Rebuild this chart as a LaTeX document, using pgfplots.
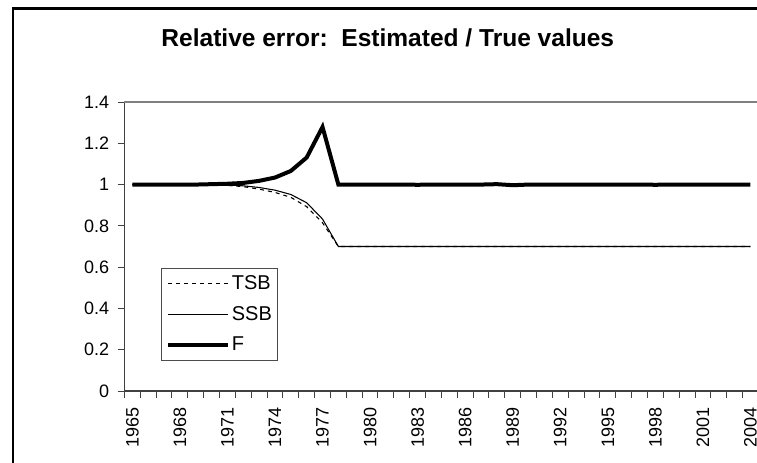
\documentclass[border=0pt]{standalone}
\usepackage{fontspec}
\setmainfont{Liberation Sans}
\usepackage{pgfplots}
\pgfplotsset{compat=1.18}
\pgfplotstableread{
year TSB SSB F
1965 1 1 1
1966 1 1 1
1967 1 1 1
1968 1 1 1
1969 1 1 1
1970 0.999 1 1.002
1971 0.996 0.998 1.004
1972 0.990 0.994 1.008
1973 0.978 0.986 1.018
1974 0.962 0.973 1.034
1975 0.938 0.952 1.066
1976 0.893 0.912 1.131
1977 0.815 0.833 1.279
1978 0.70 0.70 1.0
1979 0.70 0.70 1.0
1980 0.70 0.70 1.0
1981 0.70 0.70 1.0
1982 0.70 0.70 1.0
1983 0.70 0.70 0.999
1984 0.70 0.70 1.0
1985 0.70 0.70 1.0
1986 0.70 0.70 1.0
1987 0.70 0.70 1.0
1988 0.70 0.70 1.002
1989 0.70 0.70 0.997
1990 0.70 0.70 1.0
1991 0.70 0.70 1.0
1992 0.70 0.70 1.0
1993 0.70 0.70 1.0
1994 0.70 0.70 1.0
1995 0.70 0.70 1.0
1996 0.70 0.70 1.0
1997 0.70 0.70 1.0
1998 0.70 0.70 0.999
1999 0.70 0.70 1.0
2000 0.70 0.70 1.0
2001 0.70 0.70 1.0
2002 0.70 0.70 1.0
2003 0.70 0.70 1.0
2004 0.70 0.70 1.0
}\datatable
\newcommand{\tickfont}{\fontsize{13.5}{16}\selectfont}
\newcommand{\legfont}{\fontsize{15}{18}\selectfont}
\begin{document}
\begin{tikzpicture}[x=0.75pt,y=0.75pt]
\useasboundingbox (0,0) rectangle (757,462);
\clip (0,0) rectangle (757,462);
\draw[line width=1.6pt] (13,453.5) rectangle (900,-100);
\node[anchor=base, font=\fontsize{18.4}{22}\selectfont\bfseries] at (387.8,416) {Relative error:\ \ Estimated / True values};
\begin{axis}[
  at={(93.3pt,53.25pt)}, anchor=south west,
  scale only axis, width=475.5pt, height=216.75pt,
  xmin=1964.5, xmax=2004.5, ymin=0, ymax=1.4,
  axis x line*=bottom, axis y line*=left,
  axis line style={black!75, line width=1pt},
  tick style={black!75, line width=0.75pt},
  tick align=outside, major tick length=5pt,
  ytick={0,0.2,0.4,0.6,0.8,1,1.2,1.4},
  xtick={1964.5,1965.5,...,2004.5},
  xticklabels={},
  extra x ticks={1965,1968,1971,1974,1977,1980,1983,1986,1989,1992,1995,1998,2001,2004},
  extra x tick labels={\tickfont 1965,\tickfont 1968,\tickfont 1971,\tickfont 1974,\tickfont 1977,\tickfont 1980,\tickfont 1983,\tickfont 1986,\tickfont 1989,\tickfont 1992,\tickfont 1995,\tickfont 1998,\tickfont 2001,\tickfont 2004},
  extra x tick style={tick style={draw=none}},
  /pgf/number format/assume math mode=true,
  yticklabel style={font=\tickfont, xshift=-3pt},
  xticklabel style={font=\tickfont, yshift=-4pt, rotate=90, anchor=east},
  legend style={at={(0.0584,0.4256)}, anchor=north west, draw=black!70, line width=0.6pt,
    font=\legfont, nodes={font=\legfont, inner sep=1pt}, inner xsep=3.5pt, inner ysep=4.5pt, row sep=9pt,
    /tikz/every even column/.append style={column sep=1pt}},
  legend cell align=left,
  legend image code/.code={\draw[#1] (0pt,0pt) -- (45pt,0pt);},
  clip=false,
]
\draw[gray, line width=0.8pt] (rel axis cs:0,1) -- (rel axis cs:1,1);
\addplot[black, line width=0.8pt, dash pattern=on 3pt off 3pt] table[x=year, y=TSB] {\datatable};
\addlegendentry{\legfont TSB}
\addplot[black, line width=0.8pt] table[x=year, y=SSB] {\datatable};
\addlegendentry{\legfont SSB}
\addplot[black, line width=3pt] table[x=year, y=F] {\datatable};
\addlegendentry{\legfont F}
\end{axis}
\end{tikzpicture}
\end{document}
